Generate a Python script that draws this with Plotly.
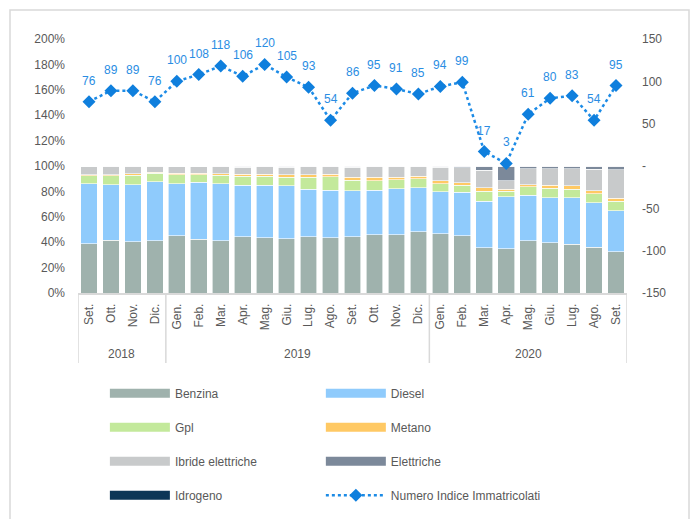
import plotly.graph_objects as go

months = ["Set.", "Ott.", "Nov.", "Dic.", "Gen.", "Feb.", "Mar.", "Apr.", "Mag.", "Giu.", "Lug.", "Ago.",
          "Set.", "Ott.", "Nov.", "Dic.", "Gen.", "Feb.", "Mar.", "Apr.", "Mag.", "Giu.", "Lug.", "Ago.", "Set."]
years = ["2018"] * 4 + ["2019"] * 12 + ["2020"] * 9

benzina = [38.6, 41.5, 40.4, 41.2, 44.9, 42.5, 41.2, 44.4, 43.6, 42.8, 44.4, 43.6, 44.4, 45.9, 45.7, 48.3,
           46.5, 44.9, 35.7, 34.9, 41.2, 39.6, 38.3, 36.2, 32.5]
diesel = [47.4, 43.8, 44.9, 46.4, 41.1, 44.9, 44.8, 40.6, 41.4, 41.7, 37.2, 37.5, 36.2, 35.2, 36.4, 34.6,
          33.3, 34.5, 36.5, 40.9, 35.7, 35.4, 36.7, 34.9, 32.3]
gpl = [6.4, 7.1, 7.4, 6.6, 7.2, 5.8, 6.7, 6.9, 6.9, 6.8, 9.5, 10.5, 8.1, 7.1, 6.9, 6.9,
       6.3, 5.5, 8.1, 4.5, 6.6, 7.4, 6.6, 7.1, 7.6]
metano = [0.7, 0.9, 1.2, 0.8, 1.0, 1.0, 1.2, 1.8, 1.8, 1.9, 2.1, 2.1, 2.4, 2.9, 2.3, 2.3,
          2.1, 2.1, 2.6, 1.3, 1.8, 2.4, 2.7, 2.4, 2.4]
ibride = [6.6, 6.2, 5.6, 4.5, 5.6, 5.6, 5.6, 5.5, 5.8, 6.0, 6.3, 5.8, 8.0, 8.4, 8.2, 7.4,
          10.8, 11.8, 13.7, 6.6, 12.6, 13.1, 13.6, 17.0, 22.3]
elettriche = [0.3, 0.5, 0.5, 0.5, 0.2, 0.2, 0.5, 0.8, 0.5, 0.8, 0.5, 0.5, 0.9, 0.5, 0.5, 0.5,
              1.0, 1.2, 3.4, 11.8, 2.1, 2.1, 2.1, 2.4, 2.9]
idrogeno = [0.0, 0.0, 0.0, 0.0, 0.0, 0.0, 0.0, 0.0, 0.0, 0.0, 0.0, 0.0, 0.0, 0.0, 0.0, 0.0,
            0.0, 0.0, 0.0, 0.0, 0.0, 0.0, 0.0, 0.0, 0.0]
indice = [76, 89, 89, 76, 100, 108, 118, 106, 120, 105, 93, 54, 86, 95, 91, 85, 94, 99, 17, 3, 61, 80, 83, 54, 95]

left_ticks = [0, 20, 40, 60, 80, 100, 120, 140, 160, 180, 200]
left_labels = ["0%", "20%", "40%", "60%", "80%", "100%", "120%", "140%", "160%", "180%", "200%"]
right_ticks = [-150, -100, -50, 0, 50, 100, 150]
right_labels = ["-150", "-100", "-50", "-", "50", "100", "150"]

series = [
    ("Benzina", benzina, "#9FB2AD", "legend"),
    ("Diesel", diesel, "#8FCBFC", "legend2"),
    ("Gpl", gpl, "#C3E99B", "legend"),
    ("Metano", metano, "#FFC964", "legend2"),
    ("Ibride elettriche", ibride, "#C8CACB", "legend"),
    ("Elettriche", elettriche, "#7C899A", "legend2"),
    ("Idrogeno", idrogeno, "#0C3657", "legend"),
]

FONT = "Liberation Sans, Arial"
TXT = "#595959"
FS = 12
GRID = "#D9D9D9"
xs = list(range(len(months)))

fig = go.Figure()
for name, vals, col, lg in series:
    fig.add_trace(go.Bar(x=xs, y=vals, name=name, marker=dict(color=col, line=dict(color="white", width=0.6)),
                         showlegend=False, yaxis="y"))

legend_order = ["Benzina", "Gpl", "Ibride elettriche", "Idrogeno", "Diesel", "Metano", "Elettriche"]
for name, vals, col, lg in series:
    fig.add_trace(go.Scatter(x=[None], y=[None], mode="lines", name=name, legend=lg,
                             legendgroup="g" + name, legendrank=legend_order.index(name),
                             line=dict(color=col, width=9), hoverinfo="skip"))

fig.add_trace(go.Scatter(x=xs, y=indice, name="Numero Indice Immatricolati", yaxis="y2", mode="lines+markers",
                         legend="legend2", legendgroup="gidx", legendrank=10,
                         line=dict(color="#1C8BE6", width=2.5, dash="dot"),
                         marker=dict(symbol="diamond", size=10, color="#0F7FDD")))

annotations = []
for i, v in enumerate(indice):
    annotations.append(dict(x=xs[i], y=v, xref="x", yref="y2", text=str(v), showarrow=False, yshift=21,
                            font=dict(family=FONT, size=FS, color="#2A8DE3")))

# year group labels and dividers
shapes = []
groups = []
for i, yv in enumerate(years):
    if not groups or groups[-1][0] != yv:
        groups.append([yv, i, i])
    else:
        groups[-1][2] = i
PLOT_H = 254
div_bottom = -(363 - 293) / PLOT_H
for yv, a, b in groups:
    annotations.append(dict(x=(a + b) / 2, y=-(354 - 293) / PLOT_H, xref="x", yref="paper", text=yv,
                            showarrow=False, yanchor="middle", font=dict(family=FONT, size=FS, color=TXT)))
    shapes.append(dict(type="line", xref="x", yref="paper", x0=a - 0.5, x1=a - 0.5, y0=0, y1=div_bottom,
                       line=dict(color=GRID, width=1.5)))
shapes.append(dict(type="line", xref="x", yref="paper", x0=groups[-1][2] + 0.5, x1=groups[-1][2] + 0.5,
                   y0=0, y1=div_bottom, line=dict(color=GRID, width=1.5)))
shapes.append(dict(type="rect", xref="paper", yref="paper", x0=(10 - 78) / 549, x1=(689 - 78) / 549,
                   y0=-1.0, y1=(293 - 10) / PLOT_H, line=dict(color=GRID, width=1.5),
                   fillcolor="rgba(0,0,0,0)", layer="below"))

fig.update_layout(
    width=690, height=519,
    margin=dict(l=78, r=63, t=39, b=226, autoexpand=False),
    paper_bgcolor="white", plot_bgcolor="white",
    barmode="stack", bargap=0.24,
    font=dict(family=FONT, size=FS, color=TXT),
    xaxis=dict(range=[-0.5, len(months) - 0.5], tickvals=xs, ticktext=months, tickangle=-90,
               showline=True, linecolor=GRID, linewidth=1.5, showgrid=False, zeroline=False, ticks="",
               automargin=False, ticklabelstandoff=4, tickfont=dict(family=FONT, size=FS, color=TXT)),
    yaxis=dict(range=[0, 200], tickvals=left_ticks, ticktext=left_labels, showgrid=False, zeroline=False,
               showline=False, ticks="", automargin=False, ticklabelstandoff=12,
               tickfont=dict(family=FONT, size=FS, color=TXT)),
    yaxis2=dict(range=[-150, 150], overlaying="y", side="right", tickvals=right_ticks, ticktext=right_labels,
                showgrid=False, zeroline=False, showline=False, ticks="", automargin=False,
                ticklabelstandoff=14, tickfont=dict(family=FONT, size=FS, color=TXT)),
    legend=dict(xref="container", yref="container", x=0.152, y=0.270, xanchor="left", yanchor="top",
                orientation="v", tracegroupgap=15, itemwidth=60,
                font=dict(family=FONT, size=FS, color=TXT), bgcolor="rgba(0,0,0,0)"),
    legend2=dict(xref="container", yref="container", x=0.465, y=0.270, xanchor="left", yanchor="top",
                 orientation="v", tracegroupgap=15, itemwidth=60,
                 font=dict(family=FONT, size=FS, color=TXT), bgcolor="rgba(0,0,0,0)"),
    annotations=annotations,
    shapes=shapes,
)

fig.write_html("out.html")
